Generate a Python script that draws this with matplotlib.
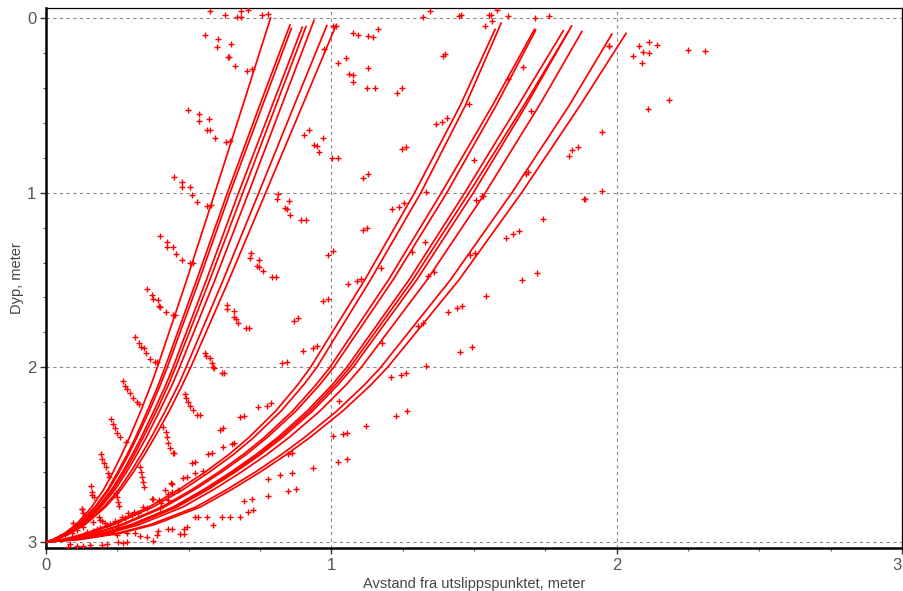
import matplotlib
matplotlib.use("Agg")
import matplotlib.pyplot as plt
from matplotlib.ticker import MultipleLocator

plt.rcParams['font.family'] = ['Liberation Sans', 'DejaVu Sans']

# ---------------- data ----------------
x_label = "Avstand fra utslippspunktet, meter"
y_label = "Dyp, meter"
x_ticks = [0, 1, 2, 3]
y_ticks = [0, 1, 2, 3]

# depths (m) at which the trajectories were read; last point of each curve is its end
depth_levels = [3.0, 2.985, 2.95, 2.9, 2.8, 2.7, 2.6, 2.5, 2.4, 2.25, 2.1, 2.0, 1.5, 1.0, 0.5]

# steep family of plume centre lines (x in m at depth_levels, then end point)
steep_x = [
    [0, 0.025, 0.065, 0.105, 0.160, 0.202, 0.235, 0.265, 0.293, 0.332, 0.368, 0.390, 0.493, 0.592, 0.690, 0.787],
    [0, 0.027, 0.070, 0.112, 0.171, 0.216, 0.251, 0.284, 0.314, 0.355, 0.394, 0.417, 0.528, 0.636, 0.749, 0.855],
    [0, 0.027, 0.071, 0.114, 0.174, 0.220, 0.256, 0.289, 0.319, 0.362, 0.401, 0.425, 0.537, 0.645, 0.759, 0.860],
    [0, 0.029, 0.074, 0.120, 0.182, 0.230, 0.268, 0.302, 0.334, 0.378, 0.420, 0.445, 0.562, 0.675, 0.793, 0.898],
    [0, 0.029, 0.076, 0.122, 0.186, 0.235, 0.274, 0.309, 0.341, 0.387, 0.429, 0.454, 0.574, 0.690, 0.806, 0.911],
    [0, 0.030, 0.078, 0.126, 0.192, 0.242, 0.282, 0.318, 0.352, 0.398, 0.442, 0.468, 0.592, 0.710, 0.826, 0.939],
    [0, 0.032, 0.082, 0.132, 0.202, 0.255, 0.296, 0.334, 0.369, 0.418, 0.464, 0.491, 0.621, 0.746, 0.870, 0.984],
    [0, 0.033, 0.085, 0.137, 0.208, 0.263, 0.306, 0.345, 0.381, 0.432, 0.478, 0.507, 0.641, 0.770, 0.899, 1.016],
]
steep_end_depth = [0.0, 0.04, 0.06, 0.053, 0.05, 0.015, 0.044, 0.044]

# wide family of plume centre lines
wide_x = [
    [0, 0.060, 0.140, 0.225, 0.360, 0.465, 0.557, 0.640, 0.712, 0.805, 0.882, 0.927, 1.117, 1.292, 1.452, 1.574],
    [0, 0.065, 0.150, 0.237, 0.374, 0.480, 0.572, 0.656, 0.729, 0.824, 0.903, 0.949, 1.137, 1.314, 1.470, 1.595],
    [0, 0.075, 0.170, 0.264, 0.405, 0.511, 0.605, 0.690, 0.766, 0.864, 0.946, 0.995, 1.200, 1.386, 1.565, 1.712],
    [0, 0.078, 0.176, 0.272, 0.414, 0.521, 0.615, 0.701, 0.776, 0.876, 0.959, 1.008, 1.216, 1.405, 1.578, 1.716],
    [0, 0.088, 0.196, 0.298, 0.445, 0.552, 0.648, 0.735, 0.813, 0.915, 1.003, 1.054, 1.272, 1.468, 1.655, 1.813],
    [0, 0.091, 0.201, 0.304, 0.452, 0.559, 0.655, 0.743, 0.821, 0.925, 1.013, 1.065, 1.285, 1.483, 1.675, 1.830],
    [0, 0.093, 0.206, 0.310, 0.459, 0.567, 0.663, 0.751, 0.830, 0.934, 1.023, 1.076, 1.299, 1.498, 1.683, 1.842],
    [0, 0.100, 0.219, 0.327, 0.479, 0.587, 0.684, 0.773, 0.853, 0.960, 1.052, 1.105, 1.335, 1.540, 1.729, 1.878],
    [0, 0.115, 0.249, 0.366, 0.524, 0.633, 0.733, 0.824, 0.907, 1.019, 1.116, 1.173, 1.417, 1.633, 1.834, 1.983],
    [0, 0.120, 0.260, 0.380, 0.540, 0.650, 0.750, 0.842, 0.926, 1.040, 1.139, 1.197, 1.447, 1.667, 1.872, 2.033],
]
wide_end_depth = [0.065, 0.03, 0.065, 0.07, 0.073, 0.08, 0.046, 0.078, 0.093, 0.088]

# particles (x, depth)
particles_upper = [
    (0.575, -0.04), (0.627, -0.017), (0.682, -0.04), (0.67, -0.007), (0.682, -0.007), (0.708, -0.046),
    (0.756, -0.017), (0.778, -0.023),
    (0.557, 0.097), (0.602, 0.12), (0.598, 0.164), (0.647, 0.147), (0.637, 0.222), (0.643, 0.222),
    (0.661, 0.273), (0.703, 0.302), (0.721, 0.292),
    (0.499, 0.527), (0.536, 0.551), (0.536, 0.59), (0.571, 0.578), (0.565, 0.641), (0.575, 0.641),
    (0.592, 0.685), (0.63, 0.708), (0.645, 0.704),
    (0.449, 0.908), (0.478, 0.937), (0.478, 0.969), (0.505, 0.966), (0.511, 1.013),
    (0.528, 1.055), (0.563, 1.076), (0.577, 1.07),
    (1.025, 0.259), (1.05, 0.227), (1.063, 0.322), (1.077, 0.328), (1.077, 0.368), (1.128, 0.288),
    (1.124, 0.402), (1.153, 0.402),
    (1.075, 0.084), (1.095, 0.097), (1.13, 0.103), (1.147, 0.107), (1.163, 0.063),
    (0.974, 0.177), (1.005, 0.046), (1.015, 0.046),
    (0.905, 0.67), (0.922, 0.641), (0.94, 0.727), (0.951, 0.733), (0.958, 0.767), (0.972, 0.685),
    (1.001, 0.80), (1.025, 0.80), (1.11, 0.918), (1.13, 0.895),
    (1.323, -0.008), (1.346, -0.04), (1.448, -0.013), (1.455, -0.017), (1.539, 0.046), (1.553, -0.017),
    (1.56, -0.017), (1.562, 0.017), (1.58, -0.046), (1.62, -0.011), (1.714, 0.002), (1.764, -0.011),
    (1.229, 0.431), (1.249, 0.402), (1.39, 0.216), (1.398, 0.208), (1.247, 0.75), (1.261, 0.737),
    (1.367, 0.609), (1.389, 0.597), (1.407, 0.574), (1.481, 0.494), (1.499, 0.813), (1.618, 0.349),
    (1.671, 0.279), (1.7, 0.532), (1.681, 0.893), (1.69, 0.883), (1.834, 0.788), (1.843, 0.756),
    (1.866, 0.737), (1.95, 0.653), (1.973, 0.16), (2.111, 0.523), (1.95, 0.992), (1.889, 1.036),
    (1.331, 0.994), (1.531, 1.019),
    (2.056, 0.216), (2.08, 0.159), (2.088, 0.259), (2.091, 0.193), (2.115, 0.136), (2.115, 0.202),
    (2.143, 0.155), (2.249, 0.183), (2.31, 0.187), (1.974, 0.159), (2.184, 0.469),
]

particles_middle = [
    (0.40, 1.248), (0.425, 1.28), (0.425, 1.309), (0.446, 1.309), (0.455, 1.351), (0.476, 1.385),
    (0.505, 1.404), (0.514, 1.404),
    (0.355, 1.553), (0.373, 1.586), (0.376, 1.61), (0.394, 1.614), (0.397, 1.649), (0.40, 1.656),
    (0.42, 1.685), (0.444, 1.702), (0.452, 1.702),
    (0.312, 1.824), (0.327, 1.859), (0.333, 1.881), (0.343, 1.887), (0.349, 1.919), (0.365, 1.95),
    (0.382, 1.967), (0.39, 1.967),
    (0.812, 1.007), (0.808, 1.038), (0.853, 1.048), (0.838, 1.089), (0.844, 1.093), (0.855, 1.128),
    (0.894, 1.156), (0.91, 1.156),
    (0.719, 1.343), (0.716, 1.372), (0.747, 1.385), (0.741, 1.418), (0.747, 1.424), (0.762, 1.45),
    (0.793, 1.481), (0.806, 1.481),
    (0.633, 1.643), (0.633, 1.667), (0.659, 1.677), (0.659, 1.713), (0.665, 1.723), (0.674, 1.748),
    (0.701, 1.775), (0.713, 1.775),
    (0.557, 1.916), (0.561, 1.933), (0.575, 1.948), (0.581, 1.977), (0.586, 1.998), (0.59, 2.005),
    (0.616, 2.034), (0.625, 2.034),
    (0.99, 1.357), (1.007, 1.334), (0.972, 1.62), (0.99, 1.61), (0.869, 1.734), (0.882, 1.719),
    (0.902, 1.904), (0.937, 1.887), (0.949, 1.876), (0.828, 1.977), (0.844, 1.971),
    (1.212, 1.093), (1.238, 1.084), (1.256, 1.061), (1.11, 1.214), (1.125, 1.202), (1.06, 1.524),
    (1.089, 1.505), (1.104, 1.496), (1.174, 1.433), (1.33, 1.28), (1.34, 1.475), (1.361, 1.456),
    (1.282, 1.338), (1.485, 1.357), (1.504, 1.343), (1.506, 1.042), (1.529, 1.019), (1.612, 1.261),
    (1.638, 1.236), (1.658, 1.219), (1.741, 1.151), (1.887, 1.038), (1.72, 1.461), (1.668, 1.502),
    (1.541, 1.593), (1.408, 1.683), (1.44, 1.662), (1.458, 1.649), (1.303, 1.763), (1.32, 1.748),
    (1.177, 1.86), (1.494, 1.881), (1.451, 1.91), (1.332, 1.99),
    (1.208, 2.057), (1.243, 2.045), (1.261, 2.034), (1.027, 2.192), (1.226, 2.278), (1.264, 2.25),
    (1.122, 2.335), (1.007, 2.393), (1.042, 2.381), (1.054, 2.374), (1.025, 2.54), (1.054, 2.526),
]

particles_lower = [
    (0.269, 2.076), (0.277, 2.106), (0.285, 2.125), (0.294, 2.148), (0.306, 2.177), (0.318, 2.196), (0.327, 2.209),
    (0.227, 2.297), (0.234, 2.324), (0.242, 2.349), (0.25, 2.374), (0.259, 2.397), (0.28, 2.425),
    (0.192, 2.496), (0.195, 2.526), (0.203, 2.549), (0.209, 2.572), (0.216, 2.606), (0.222, 2.629),
    (0.158, 2.679), (0.16, 2.711), (0.162, 2.73), (0.169, 2.744),
    (0.125, 2.812), (0.129, 2.832), (0.137, 2.845),
    (0.329, 2.568), (0.333, 2.597), (0.336, 2.626), (0.341, 2.654), (0.345, 2.683),
    (0.411, 2.339), (0.421, 2.368), (0.423, 2.4), (0.429, 2.434), (0.435, 2.463), (0.444, 2.488), (0.45, 2.488),
    (0.487, 2.154), (0.49, 2.177), (0.499, 2.196), (0.505, 2.219), (0.514, 2.244), (0.528, 2.272), (0.54, 2.272),
    (0.245, 2.721), (0.248, 2.744), (0.251, 2.769), (0.256, 2.792),
    (0.187, 2.854), (0.195, 2.877), (0.207, 2.893),
    (0.61, 2.358), (0.619, 2.349), (0.651, 2.44), (0.66, 2.434), (0.619, 2.458), (0.581, 2.488),
    (0.569, 2.498), (0.68, 2.282), (0.694, 2.277), (0.744, 2.225), (0.776, 2.219), (0.788, 2.206),
    (0.513, 2.545), (0.522, 2.54), (0.551, 2.591), (0.522, 2.606), (0.481, 2.635), (0.495, 2.629),
    (0.437, 2.664), (0.441, 2.669), (0.417, 2.702), (0.441, 2.711), (0.464, 2.702), (0.37, 2.753),
    (0.376, 2.753), (0.396, 2.759), (0.402, 2.778), (0.40, 2.803), (0.429, 2.759), (0.426, 2.727),
    (0.341, 2.797), (0.353, 2.803), (0.31, 2.826), (0.324, 2.835), (0.289, 2.835), (0.30, 2.845),
    (0.265, 2.854), (0.277, 2.864), (0.242, 2.877), (0.253, 2.887), (0.224, 2.898), (0.213, 2.902),
    (0.189, 2.921), (0.178, 2.925), (0.166, 2.935),
    (0.522, 2.858), (0.534, 2.858), (0.563, 2.858), (0.586, 2.902), (0.616, 2.858), (0.645, 2.855), (0.68, 2.855),
    (0.429, 2.927), (0.44, 2.927), (0.484, 2.927), (0.493, 2.912), (0.484, 2.954), (0.47, 2.954),
    (0.388, 2.96), (0.394, 2.935), (0.353, 2.969), (0.33, 2.965), (0.376, 2.992),
    (0.283, 2.998), (0.271, 3.007), (0.253, 2.998), (0.213, 3.011), (0.195, 3.017), (0.154, 3.017),
    (0.131, 3.022), (0.108, 3.02), (0.078, 3.026), (0.084, 3.013),
    (0.709, 2.826), (0.727, 2.816), (0.694, 2.763), (0.723, 2.752), (0.779, 2.734), (0.849, 2.708),
    (0.876, 2.698), (0.82, 2.616), (0.863, 2.603), (0.777, 2.641), (0.935, 2.578), (0.861, 2.492), (0.849, 2.498),
    (0.125, 2.811), (0.148, 2.845), (0.166, 2.883), (0.189, 2.873), (0.131, 2.912), (0.107, 2.931),
    (0.09, 2.95), (0.067, 2.96), (0.049, 2.969), (0.096, 2.893), (0.143, 2.94), (0.178, 2.94),
    (0.248, 2.912), (0.23, 2.94), (0.283, 2.95), (0.312, 2.946), (0.248, 2.96),
]

# ---------------- figure ----------------
W, H = 904, 591
fig = plt.figure(figsize=(W / 100, H / 100), dpi=100)
ax = fig.add_axes([46 / W, (H - 548) / H, (902 - 46) / W, (548 - 8) / H])

red = '#ff0000'
for xs, dend in zip(steep_x, steep_end_depth):
    ax.plot(xs, depth_levels + [dend], color=red, lw=1.25, zorder=3, solid_joinstyle='round')
for xs, dend in zip(wide_x, wide_end_depth):
    ax.plot(xs, depth_levels + [dend], color=red, lw=1.25, zorder=3, solid_joinstyle='round')

for group in (particles_upper, particles_middle, particles_lower):
    px = [p[0] for p in group]
    py = [p[1] for p in group]
    ax.plot(px, py, linestyle='none', marker='+', color=red, markersize=3.8,
            markeredgewidth=1.0, zorder=4)

ax.set_xlim(0, 3)
ax.set_ylim(3.034, -0.057)
ax.set_xticks(x_ticks)
ax.set_yticks(y_ticks)
ax.set_xticklabels([str(t) for t in x_ticks])
ax.set_yticklabels([str(t) for t in y_ticks])
ax.get_xticklabels()[-1].set_horizontalalignment('right')
ax.xaxis.set_minor_locator(MultipleLocator(0.25))
ax.yaxis.set_minor_locator(MultipleLocator(0.2))
ax.tick_params(which='major', direction='out', length=4, width=1, color='#333333',
               labelsize=12, labelcolor='#555555', pad=3)
ax.tick_params(which='minor', direction='out', length=2.5, width=0.8, color='#555555')

ax.grid(which='major', color='#888888', linestyle=(0, (3, 3)), linewidth=0.8, zorder=1)
ax.set_axisbelow(True)

for side in ('left', 'bottom'):
    ax.spines[side].set_linewidth(1.8)
    ax.spines[side].set_color('black')
for side in ('top', 'right'):
    ax.spines[side].set_linewidth(0.9)
    ax.spines[side].set_color('black')

ax.set_xlabel(x_label, fontsize=10.5, color='#444444', labelpad=3)
ax.set_ylabel(y_label, fontsize=10.5, color='#444444', labelpad=2)

fig.savefig('out.png', dpi=100, facecolor='white')
